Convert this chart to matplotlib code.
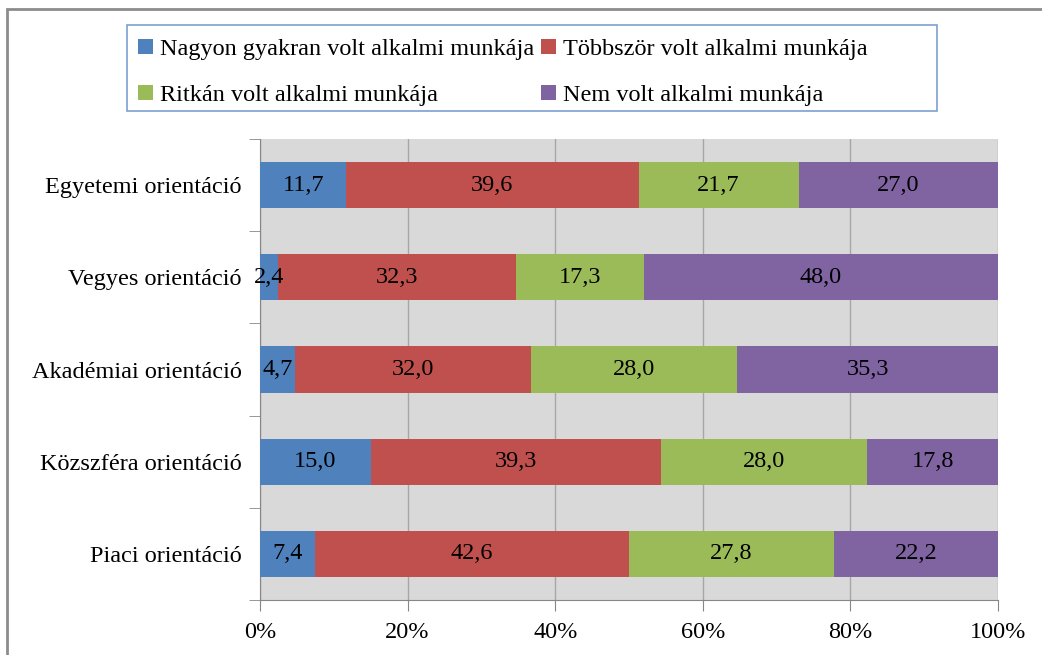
import matplotlib.pyplot as plt
import matplotlib.patches as patches
import numpy as np

categories = ['Egyetemi orientáció', 'Vegyes orientáció', 'Akadémiai orientáció',
              'Közszféra orientáció', 'Piaci orientáció']
series_names = ['Nagyon gyakran volt alkalmi munkája', 'Többször volt alkalmi munkája',
                'Ritkán volt alkalmi munkája', 'Nem volt alkalmi munkája']
nagyon = [11.7, 2.4, 4.7, 15.0, 7.4]
tobbszor = [39.6, 32.3, 32.0, 39.3, 42.6]
ritkan = [21.7, 17.3, 28.0, 28.0, 27.8]
nem = [27.0, 48.0, 35.3, 17.8, 22.2]
colors = ['#4f81bd', '#c0504d', '#9bbb59', '#8064a2']
xticks = [0, 20, 40, 60, 80, 100]

plt.rcParams['font.family'] = ['Liberation Serif', 'DejaVu Serif']
FS = 17.5
W, H = 1042, 655

fig = plt.figure(figsize=(W/100, H/100), dpi=100)
ax = fig.add_axes([260/W, 1-600/H, 738/W, 461/H])
ax.set_facecolor('#d9d9d9')

# gray outer frame of the chart object
fig.patches.append(patches.Rectangle((7/W, -0.1), 1.2, 1-9/H+0.1,
                                     transform=fig.transFigure, fill=False,
                                     edgecolor='#8c8c8c', linewidth=2))
# legend box (drawn separately, Excel leaves extra room on the right)
fig.patches.append(patches.Rectangle((127/W, 1-111/H), 810/W, 86/H,
                                     transform=fig.transFigure, fill=False,
                                     edgecolor='#7da0d0', linewidth=1.2))

y = np.arange(len(categories))
left = np.zeros(len(categories))
handles = []
for vals, name, col in zip([nagyon, tobbszor, ritkan, nem], series_names, colors):
    bars = ax.barh(y, vals, left=left, height=0.5, color=col, label=name, zorder=3)
    handles.append(bars)
    for yi, l, v in zip(y, left, vals):
        ax.text(l + v/2, yi, f'{v:.1f}'.replace('.', ','), ha='center', va='center',
                fontsize=FS, color='black', zorder=4)
    left += np.array(vals)

ax.set_xlim(0, 100)
ax.set_ylim(len(categories) - 0.5, -0.5)
ax.set_xticks(xticks)
ax.set_xticklabels([f'{t}%' for t in xticks], fontsize=FS)
ax.set_yticks(y)
ax.set_yticklabels(categories, fontsize=FS)
ax.set_yticks(np.arange(len(categories) + 1) - 0.5, minor=True)
ax.tick_params(axis='y', which='major', length=0, pad=13)
ax.tick_params(axis='y', which='minor', length=8, color='#868686')
ax.tick_params(axis='x', length=8, color='#868686', pad=8)
ax.grid(axis='x', color='#a6a6a6', linewidth=1, zorder=1)
for s in ['top', 'right']:
    ax.spines[s].set_visible(False)
ax.spines['left'].set_color('#868686')
ax.spines['bottom'].set_color('#868686')

order = [0, 2, 1, 3]
leg = fig.legend([handles[i] for i in order], [series_names[i] for i in order],
                 ncol=2, loc='upper left', bbox_to_anchor=(127/W, 1-28/H),
                 fontsize=FS, frameon=False, handlelength=0.6,
                 handleheight=0.6, handletextpad=0.3, columnspacing=0.3,
                 borderpad=0.45, labelspacing=1.0, borderaxespad=0)

fig.savefig('out.png', dpi=100)
